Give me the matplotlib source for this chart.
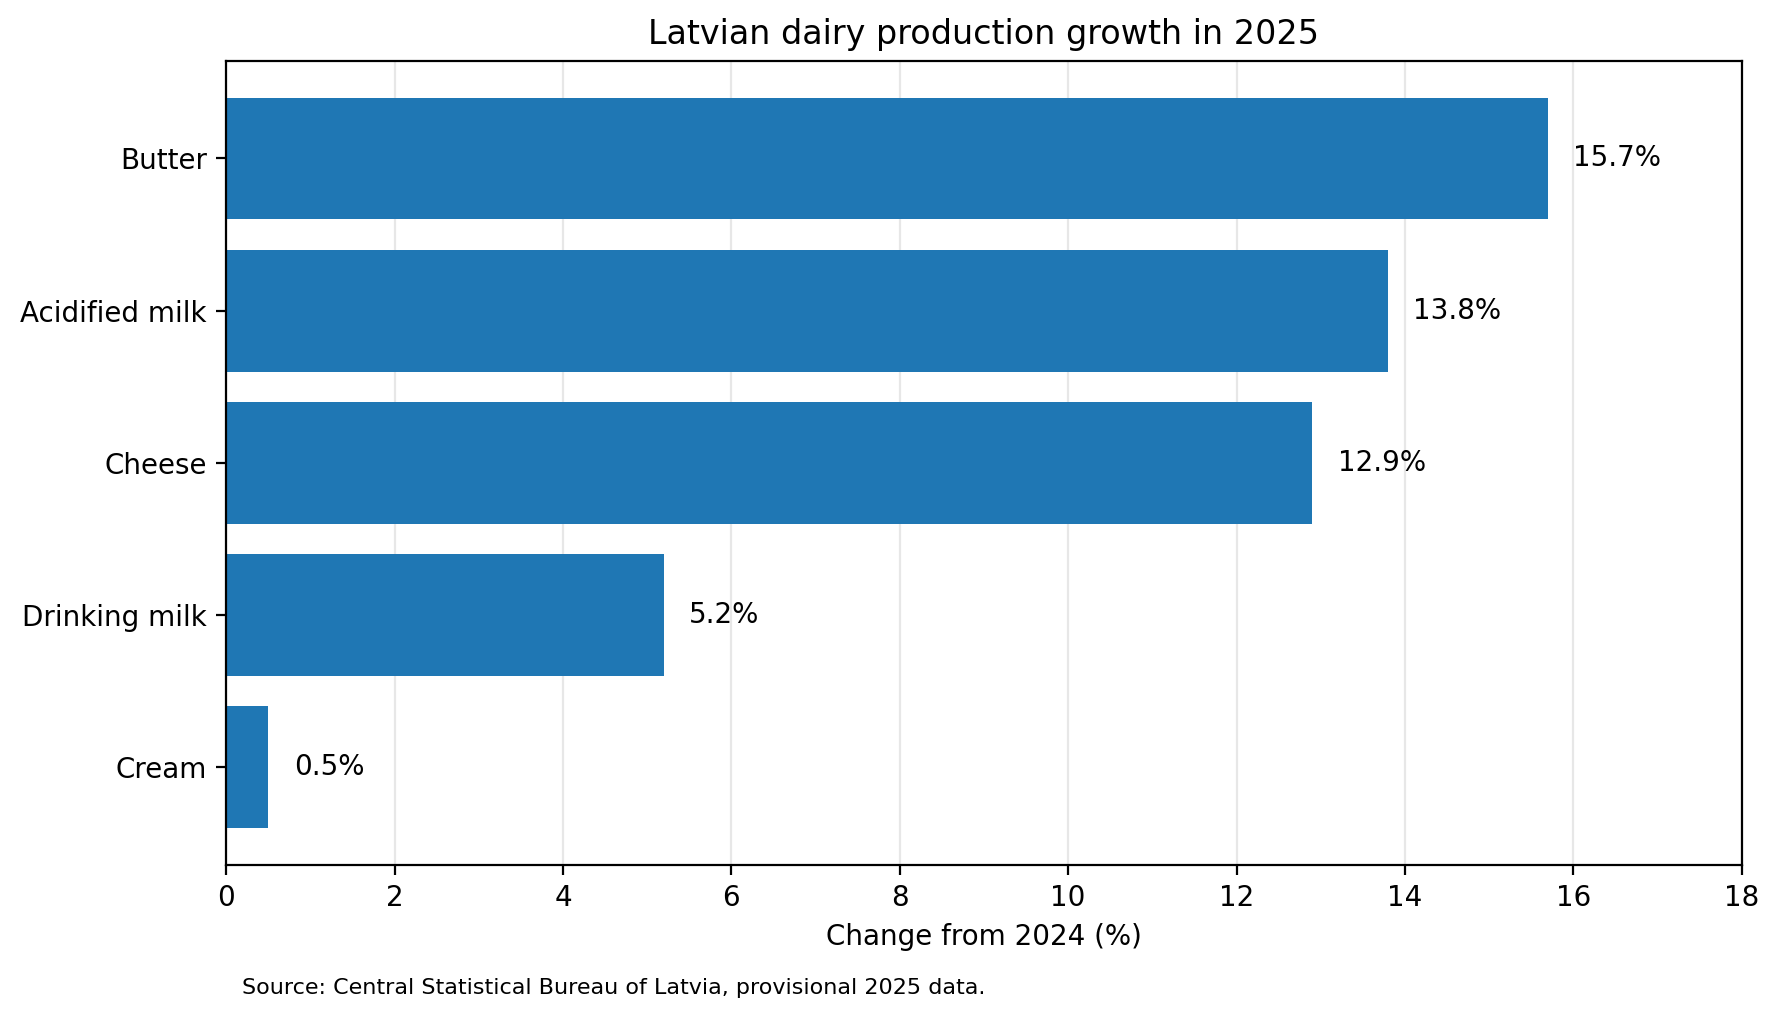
import matplotlib
matplotlib.use("Agg")
import matplotlib.pyplot as plt

# data
products = ["Cream", "Drinking milk", "Cheese", "Acidified milk", "Butter"]
growth = [0.5, 5.2, 12.9, 13.8, 15.7]
xticks = [0, 2, 4, 6, 8, 10, 12, 14, 16, 18]

fig = plt.figure(figsize=(8.895, 5.09), dpi=200)
ax = fig.add_axes([0.1272, 0.1505, 0.8518, 0.7895])

bars = ax.barh(products, growth, height=0.8, color="#1f77b4", zorder=2)
for b, v in zip(bars, growth):
    ax.text(v + 0.3, b.get_y() + b.get_height() / 2, f"{v}%",
            va="center", ha="left", fontsize=10)

ax.set_xlim(0, 18)
ax.set_xticks(xticks)
ax.grid(axis="x", alpha=0.3, zorder=0)
ax.set_axisbelow(True)
ax.set_xlabel("Change from 2024 (%)")
ax.set_title("Latvian dairy production growth in 2025", fontsize=12)

fig.text(0.136, 0.024, "Source: Central Statistical Bureau of Latvia, provisional 2025 data.",
         fontsize=8)

fig.savefig("out.png", dpi=200)
